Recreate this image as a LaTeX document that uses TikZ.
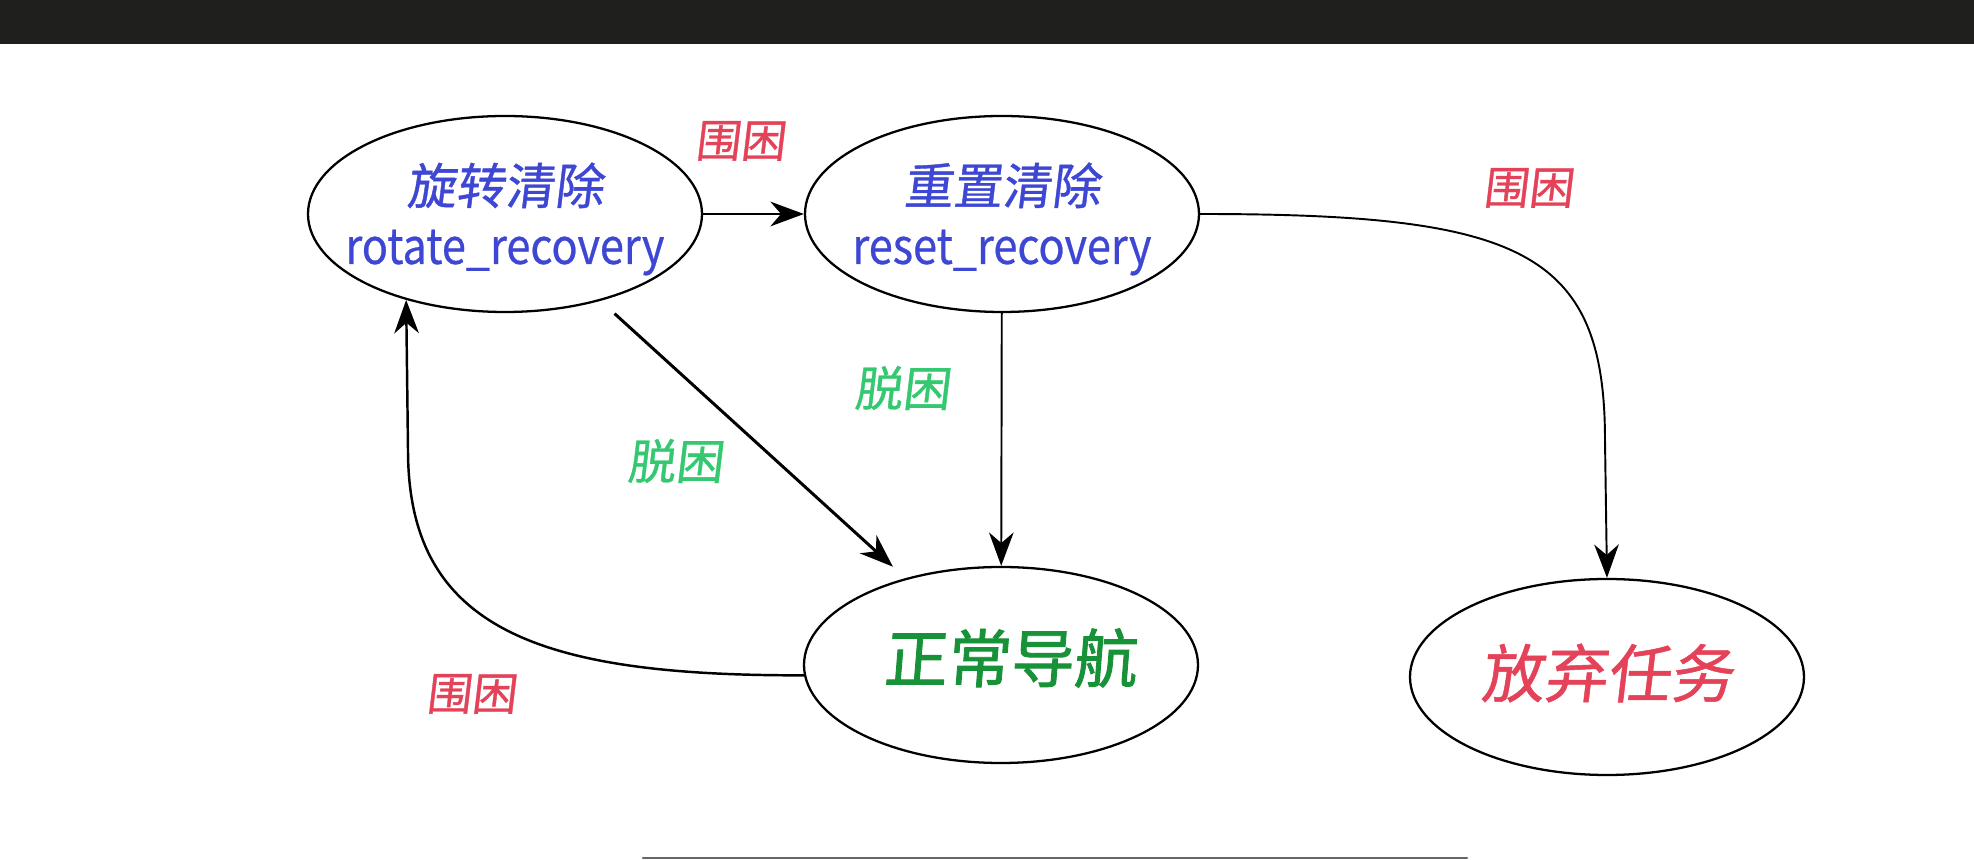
\documentclass[tikz,border=0pt]{standalone}
\usepackage{fontspec}
\setmainfont{Noto Sans CJK SC}
\newfontfamily\cjkslant[FakeSlant=0.12,FakeBold=0.8]{Noto Sans CJK SC}
\newfontfamily\cjkheavy[FakeSlant=0.08,FakeBold=1.4]{Noto Sans CJK SC}
\newfontfamily\latinnarrow[FakeStretch=0.88,FakeBold=0.5]{Noto Sans CJK SC}
\usetikzlibrary{arrows.meta,shapes.geometric}

\definecolor{stateblue}{RGB}{62,70,212}
\definecolor{navgreen}{RGB}{24,146,56}
\definecolor{trapred}{RGB}{228,66,88}
\definecolor{freegreen}{RGB}{52,200,112}
\definecolor{topbar}{RGB}{31,31,30}

\tikzset{
  statebox/.style={draw, ellipse, line width=0.65pt, inner sep=0pt, minimum width=39.4mm, minimum height=19.6mm},
  statetext/.style={text=stateblue, align=center, font=\fontsize{14}{17}\selectfont},
  link/.style={-{Stealth[length=9.5pt,width=7pt,inset=3pt]}, line width=0.55pt},
  boldlink/.style={link, line width=0.85pt},
  trapnote/.style={text=trapred, font=\cjkslant\fontsize{12.8}{14}\selectfont},
  freenote/.style={text=freegreen, font=\cjkslant\fontsize{13.6}{15}\selectfont},
}

\begin{document}
\begin{tikzpicture}[x=0.1mm, y=-0.1mm]
    % Frame
    \useasboundingbox (0,0) rectangle (1974,860);
    \fill[white] (0,0) rectangle (1974,860);
    \fill[topbar] (0,0) rectangle (1974,44);
    \draw[gray!80!black, line width=0.7pt, line cap=round] (643,858) -- (1467,858);
    % States
    \node[statebox] (rot) at (505,214) {};
    \node[statebox] (res) at (1002,214) {};
    \node[statebox] (nav) at (1001,665) {};
    \node[statebox] (quit) at (1607,677) {};
    \node[statetext] (rottext) at (505,219) {{\cjkslant 旋转清除}\\{\latinnarrow rotate\_recovery}};
    \node[statetext] (restext) at (1002,219) {{\cjkslant 重置清除}\\{\latinnarrow reset\_recovery}};
    \node[text=navgreen, font=\cjkheavy\fontsize{18}{20}\selectfont] (navtext) at (1010,658) {正常导航};
    \node[text=trapred, font=\cjkslant\fontsize{18}{20}\selectfont] (quittext) at (1607,673) {放弃任务};
    % Edge labels
    \node[trapnote] (trap1) at (740,141) {围困};
    \node[trapnote] (trap2) at (1528,188) {围困};
    \node[trapnote] (trap3) at (471,694) {围困};
    \node[freenote] (free1) at (675,461) {脱困};
    \node[freenote] (free2) at (902,388) {脱困};
    % Transitions
    \draw[boldlink] (rot) -- (res);
    \draw[boldlink, shorten <=1.9mm, shorten >=1.7mm] (rot) -- (nav);
    \draw[link] (res) -- (nav);
    \coordinate (quitbend) at (1605,440);
    \draw[link] (res.east) .. controls (1520,214) and (1605,250) .. (quitbend) -- (quit.north);
    \coordinate (rotbend) at (408,450);
    \draw[link, line width=0.7pt] (nav.183) .. controls (540,676) and (408,630) .. (rotbend) -- (rot.221);
\end{tikzpicture}
\end{document}
